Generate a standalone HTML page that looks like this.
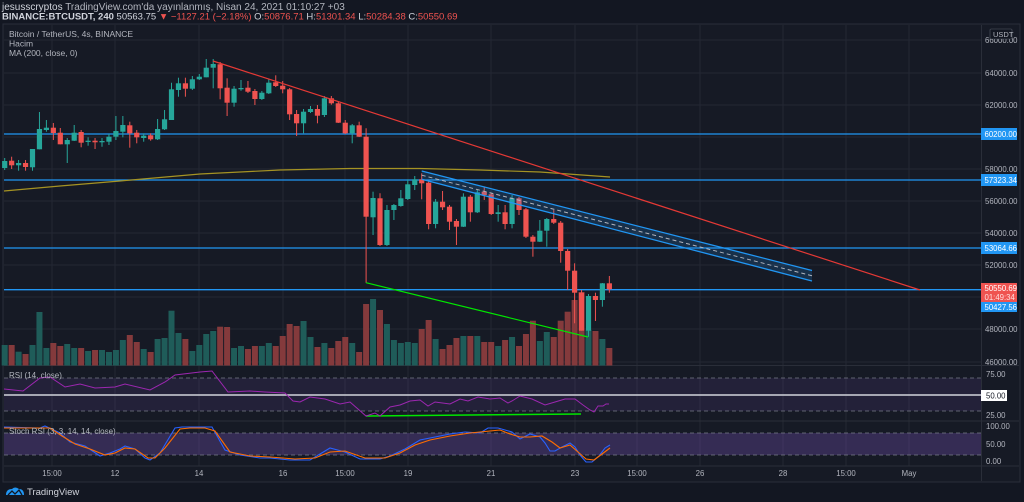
<!DOCTYPE html>
<html><head><meta charset="utf-8">
<style>
html,body{margin:0;padding:0;background:#131722;width:1024px;height:502px;overflow:hidden;font-family:"Liberation Sans",sans-serif;}
svg{position:absolute;left:0;top:0}
</style></head>
<body>
<svg id="s" width="1024" height="502" xmlns="http://www.w3.org/2000/svg" font-family="Liberation Sans, sans-serif">
<rect x="0" y="0" width="1024" height="502" fill="#131722"/>
<rect x="3" y="24" width="1017" height="458" fill="#161a25" stroke="#2a2e39"/>
<g id="grid" stroke="#242833" stroke-width="1"></g>
<g id="bands"></g>
<g id="vol"></g>
<g id="lines"></g>
<g id="candles"></g>
<g id="over"></g>
<g id="axis" font-size="7.8" fill="#b2b5be"></g>
<text x="2" y="10" font-size="10" fill="#d1d4dc">jesusscryptos <tspan fill="#b2b5be">TradingView.com'da yayınlanmış, Nisan 24, 2021 01:10:27 +03</tspan></text>
<text x="2" y="19.5" font-size="9.5" fill="#d1d4dc"><tspan font-weight="bold">BINANCE:BTCUSDT, 240</tspan> 50563.75 <tspan fill="#ef5350">▼ −1127.21 (−2.18%)</tspan> O:<tspan fill="#ef5350">50876.71</tspan> H:<tspan fill="#ef5350">51301.34</tspan> L:<tspan fill="#ef5350">50284.38</tspan> C:<tspan fill="#ef5350">50550.69</tspan></text>
<text x="9" y="37" font-size="8.5" fill="#b2b5be">Bitcoin / TetherUS, 4s, BINANCE</text>
<text x="9" y="46.5" font-size="8.5" fill="#b2b5be">Hacim</text>
<text x="9" y="56" font-size="8.5" fill="#b2b5be">MA (200, close, 0)</text>
<text x="9" y="378" font-size="8" fill="#b2b5be">RSI (14, close)</text>
<text x="9" y="434" font-size="8" fill="#b2b5be">Stoch RSI (3, 3, 14, 14, close)</text>
<g transform="translate(4,486)"><path d="M2 9 Q2 3 8 3 Q11 0 15 3 Q20 3 20 9 Z" fill="#2196f3"/><path d="M4 9 L8 5 L11 8 L15 4 L18 9" stroke="#131722" stroke-width="1.3" fill="none"/></g>
<text x="27" y="495" font-size="9.5" fill="#d1d4dc">TradingView</text>
</svg>
<script>
var NS="http://www.w3.org/2000/svg";
function el(p,t,a,txt){var e=document.createElementNS(NS,t);for(var k in a)e.setAttribute(k,a[k]);if(txt!==undefined)e.textContent=txt;document.getElementById(p).appendChild(e);return e;}
var vx=[52,115,199,283,345,408,491,575,637,700,783,846,909];
vx.forEach(function(x){el('grid','line',{x1:x,y1:25,x2:x,y2:466});});
[40,73,105,137,169,201,233,265,297,329,362].forEach(function(y){el('grid','line',{x1:4,y1:y,x2:981,y2:y});});
el('grid','line',{x1:4,y1:365.5,x2:1019,y2:365.5,stroke:'#2a2e39'});
el('grid','line',{x1:4,y1:421,x2:1019,y2:421,stroke:'#2a2e39'});
el('grid','line',{x1:4,y1:466,x2:1019,y2:466,stroke:'#2a2e39'});
el('grid','line',{x1:981.5,y1:25,x2:981.5,y2:481,stroke:'#2a2e39'});
el('bands','rect',{x:4,y:378,width:977,height:33,fill:'#7e57c2','fill-opacity':0.13});
el('bands','rect',{x:4,y:433,width:977,height:22,fill:'#7e57c2','fill-opacity':0.3});
[378,411,433,455].forEach(function(y){el('bands','line',{x1:4,y1:y,x2:981,y2:y,stroke:'#787b86','stroke-dasharray':'4 3','stroke-width':0.8});});
el('bands','line',{x1:4,y1:395,x2:981,y2:395,stroke:'#d1d4dc','stroke-width':1.5});
var C=[
['g',161,168,158,170],['r',160.7,165.3,156.7,169],['g',163,165.3,160,170.7],['r',163,167,160,170.7],['g',149,167.3,149,170.7],
['g',129,149.3,112,149.3],['g',127.7,130,120,131.7],['r',127.7,133,123,140],['r',132.7,144.3,128,144.3],['g',140,144.3,138,163],
['g',132.7,140.7,125,141],['r',132,142.7,130,147.3],['g',140.7,142,137.3,145.7],['r',140.7,142.3,138,149],['g',141,142.3,138,146.7],
['g',136.7,141.7,134,145],['g',131,136.7,116,140],['g',125,131.7,116,137.3],['r',125.3,133.3,121.7,147.7],['r',132.7,137.3,130,143.3],
['g',135.7,138,133.3,141.7],['r',135.3,139.3,133.3,140.7],['g',129,139.3,119,140],['g',119.3,129.3,110,130],['g',89.3,120,82.7,120],
['g',83.3,90,77.7,96.7],['r',83.3,88.7,77.7,96.7],['g',79.3,88.7,76,90],['g',76.7,79.3,74,80],['g',67.7,77.3,59,77.3],
['g',64,67.7,59,88.3],['r',64.3,88.3,62,99.3],['r',87.7,102.7,78.3,116],['g',88.7,102.7,86,106.7],['g',88,89.3,80,90.7],
['r',87.7,91.7,81,93],['r',91,99,89,105],['g',92.7,99,91,100],['g',82.7,93.3,78.7,94],['r',82.3,86,75.3,87],
['r',85.7,89.3,81,93.3],['r',89.3,114.3,88,120],['r',114,123.3,110,136],['g',111.7,123.3,109,133.3],['g',109,112,106,113],
['r',109,115.7,105,123.3],['g',98.3,115,96,117],['r',98.3,103.3,96,104.7],['r',103.3,122.7,101,123],['r',122.7,133.3,120,134],
['g',125.3,133.3,124,143.3],['r',125.3,136.7,121.7,137],['r',136.7,216.7,128.3,282.7],['g',198,217.3,191.7,235],['r',198.3,245,193.3,246],
['g',210,245,205,246],['g',205,210,204,220],['g',198.3,206,190,206.7],['g',184.3,199,179.3,200],['g',179.3,185,176,190],
['r',179.3,183.3,173.3,199.3],['r',182.7,224,181,229.3],['g',201.7,224,199,228.3],['r',201.7,207.3,191,210],['r',206.7,221.7,205,230],
['r',221,226.7,219,245],['g',196.7,226.7,193.3,227],['r',196.7,212.3,195,221.7],['g',192.3,212.3,190,213],['r',191.7,195,186.7,200],
['r',194.3,214,193,215],['g',212.3,214,205,221.7],['r',212.3,224,205,229.3],['g',198.3,224,195,228.3],['r',198.3,210,197,215],
['r',209.3,236.7,208,238],['r',236.7,241.7,235,256.7],['g',230.7,241.7,220,242],['g',219,230.7,218,246.7],['r',219,222.7,210,224],
['r',222.7,251,221,262.7],['r',251,270.7,249,290],['r',270.7,292.7,263.3,323.3],['r',292.7,330.7,290,330.7],['g',296,330.7,294,336.7],
['r',296,300,292.7,321],['g',283.3,300,283,306.7],['r',283.3,289.3,276,292.7]];
var V=[345,345,351.7,354,345,312,348,343,346,344,348,348,351,350,350,352,350,340,335,342,349,352,339,338,310.7,
333,339,351,345,334,331,326.7,327,348,346,349,346,346,343,346,336,324,326,321,337,347,
343,348,341,337,343,352,304,299,310,324,340,343,342,343,329,320,339,349,345,338,336,336,336,342,342,346,340,337,346,334,320.7,341,332,337,320.7,311.7,300,292,330,331,339,348];
for(var i=0;i<C.length;i++){
 var x=4.7+i*6.95,c=C[i],col=c[0]=='g'?'#26a69a':'#ef5350';
 var vc=c[0]=='g'?'#1f5c59':'#843a3c';
 el('vol','rect',{x:x-3,y:V[i],width:6,height:365.5-V[i],fill:vc});
 el('candles','line',{x1:x,y1:c[3],x2:x,y2:c[4],stroke:col,'stroke-width':1});
 el('candles','rect',{x:x-2.6,y:c[1],width:5.2,height:Math.max(1,c[2]-c[1]),fill:col});
}
[134,180,248,289.7].forEach(function(y){el('lines','line',{x1:4,y1:y,x2:981,y2:y,stroke:'#2196f3','stroke-width':1.3});});
el('lines','path',{d:'M4 191 L60 186 L120 181 L200 174 L280 170 L350 168.5 L420 168.5 L480 170 L540 172 L610 177',stroke:'#a59323','stroke-width':1.2,fill:'none'});
el('over','polygon',{points:'421.7,171 812,270.5 812,281 421.7,179.3',fill:'#2196f3','fill-opacity':0.18});
el('over','line',{x1:421.7,y1:171,x2:812,y2:270.5,stroke:'#2196f3','stroke-width':1.3});
el('over','line',{x1:421.7,y1:179.3,x2:812,y2:281,stroke:'#2196f3','stroke-width':1.3});
el('over','line',{x1:421.7,y1:175.2,x2:812,y2:275.8,stroke:'#b2b5be','stroke-width':1,'stroke-dasharray':'4 3'});
el('over','line',{x1:213,y1:61,x2:920,y2:290,stroke:'#e53935','stroke-width':1.2});
el('over','line',{x1:366,y1:282.7,x2:588,y2:337,stroke:'#00e600','stroke-width':1.2});
el('over','line',{x1:366,y1:416,x2:581,y2:414,stroke:'#00e600','stroke-width':1.5});
el('over','polyline',{points:'4,389 23,391 40,378 50,377 65,387 80,384 95,388 115,387 125,384 150,390 165,382 175,375 200,372 212,371 228,392 250,391 265,392 285,393 293,401 300,402 310,397 325,399 340,404 350,402 366,416 375,413 380,416 390,407 400,405 410,401 420,400 428,406 435,402 450,404 460,399 468,401 478,397 490,399 500,398 508,403 512,401 520,396 532,399 545,405 555,402 565,399 575,399 583,405 590,410 594,412 598,406 603,406 606,404 609,404',stroke:'#9c27b0','stroke-width':1,fill:'none'});
el('over','polyline',{points:'4,427 40,428 45,426 60,433 70,442 85,446 100,456 110,453 120,449 125,446 135,449 145,458 150,460 160,453 175,428 182,427 200,427 212,427 225,450 240,455 260,458 270,458 290,460 310,460 320,454 330,448 345,452 360,459 380,459 390,456 405,449 420,440 430,438 450,434 465,432 480,433 488,428 498,428 505,430 512,432 520,439 530,434 540,437 545,443 550,451 555,451 562,447 570,443 575,447 580,455 586,462 592,462 599,456 605,448 610,445',stroke:'#2962ff','stroke-width':1.1,fill:'none'});
el('over','polyline',{points:'4,428 40,428 50,428 62,436 75,444 90,449 105,455 115,453 125,448 135,449 148,458 155,458 165,448 180,429 190,428 205,428 215,431 230,452 250,456 270,457 295,459 315,458 330,452 345,451 365,458 385,458 400,453 415,445 430,440 450,436 470,433 490,431 500,430 510,434 520,437 530,437 542,436 552,442 560,448 570,445 578,452 586,459 594,460 602,454 610,448',stroke:'#ff6d00','stroke-width':1.1,fill:'none'});
[['66000.00',43],['64000.00',76],['62000.00',108],['58000.00',172],['56000.00',204],['54000.00',236],['52000.00',268],['48000.00',332],['46000.00',365]].forEach(function(a){el('axis','text',{x:985,y:a[1]},a[0]);});
el('axis','rect',{x:990,y:29,width:22,height:10,fill:'#131722',stroke:'#555a66','stroke-width':0.6,rx:1});
el('axis','text',{x:993,y:37,'font-size':7.5},'USDT');
[['#2196f3','60200.00',134],['#2196f3','57323.34',180],['#2196f3','53064.66',248]].forEach(function(a){el('axis','rect',{x:981,y:a[2]-6,width:36,height:12,fill:a[0]});el('axis','text',{x:984.5,y:a[2]+3,fill:'#fff'},a[1]);});
el('axis','rect',{x:981,y:283,width:36,height:19,fill:'#ef5350'});
el('axis','text',{x:984.5,y:291,fill:'#fff'},'50550.69');
el('axis','text',{x:984.5,y:300,fill:'#fdd'},'01:49:34');
el('axis','rect',{x:981,y:302,width:36,height:10,fill:'#2196f3'});
el('axis','text',{x:984.5,y:310,fill:'#fff'},'50427.56');
el('axis','text',{x:986,y:377},'75.00');
el('axis','rect',{x:981,y:390,width:26,height:11,fill:'#fff'});
el('axis','text',{x:986,y:398.5,fill:'#131722'},'50.00');
el('axis','text',{x:986,y:418},'25.00');
el('axis','text',{x:986,y:429},'100.00');
el('axis','text',{x:986,y:447},'50.00');
el('axis','text',{x:986,y:464},'0.00');
[['15:00',52],['12',115],['14',199],['16',283],['15:00',345],['19',408],['21',491],['23',575],['15:00',637],['26',700],['28',783],['15:00',846],['May',909]].forEach(function(a){el('axis','text',{x:a[1],y:476,'text-anchor':'middle'},a[0]);});
</script>
</body></html>
